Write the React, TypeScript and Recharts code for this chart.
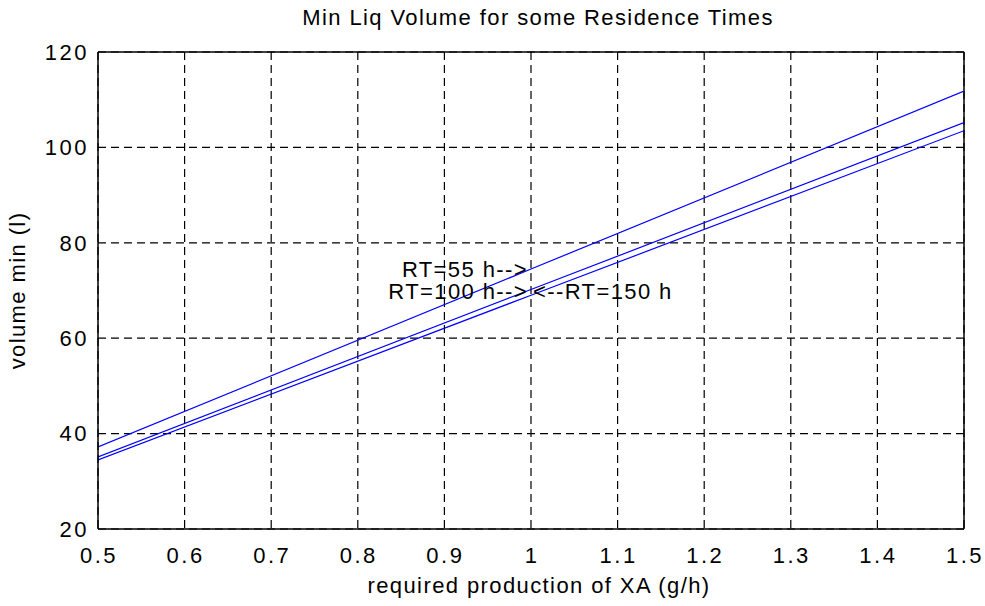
import React from 'react';
import { LineChart, Line, XAxis, YAxis, CartesianGrid, ReferenceLine, ReferenceDot, Label } from 'recharts';

const production = [0.5, 1.0, 1.5];
const rt55 = [37.2, 74.5, 111.8];
const rt100 = [35.1, 70.2, 105.2];
const rt150 = [34.5, 69.0, 103.5];

const xTicks = [0.5, 0.6, 0.7, 0.8, 0.9, 1, 1.1, 1.2, 1.3, 1.4, 1.5];
const yTicks = [20, 40, 60, 80, 100, 120];

const title = 'Min Liq Volume for some Residence Times';
const xLabel = 'required production of XA (g/h)';
const yLabel = 'volume min (l)';

const annotations = [
  { x: 1, y: 74.5, text: 'RT=55 h-->', anchor: 'end' },
  { x: 1, y: 69.8, text: 'RT=100 h-->', anchor: 'end' },
  { x: 1, y: 69.8, text: '<--RT=150 h', anchor: 'start' },
];

const data = production.map((p, i) => ({ p, rt55: rt55[i], rt100: rt100[i], rt150: rt150[i] }));

const FONT = '"Liberation Sans", Arial, sans-serif';
const FS = 22;
const LS = 1.4;

export default function App() {
  return (
    <div style={{ position: 'absolute', left: 0, top: 0, width: 985, height: 606, background: '#fff' }}>
      <div
        style={{
          position: 'absolute',
          left: 0,
          top: 4,
          width: 1076,
          textAlign: 'center',
          fontFamily: FONT,
          fontSize: FS,
          letterSpacing: LS,
          color: '#000',
          lineHeight: '28px',
        }}
      >
        {title}
      </div>
      <LineChart width={985} height={606} data={data} margin={{ top: 52, right: 21, bottom: 0, left: 0 }}>
        <CartesianGrid stroke="#000" strokeDasharray="8 5" strokeWidth={1.2} />
        <XAxis
          dataKey="p"
          type="number"
          domain={[0.5, 1.5]}
          ticks={xTicks}
          tickFormatter={(v: number) => String(v)}
          height={77}
          tickLine={false}
          tickSize={0}
          tickMargin={18}
          axisLine={{ stroke: '#000', strokeWidth: 1.5 }}
          tick={{ fill: '#000', fontFamily: FONT, fontSize: FS, letterSpacing: 2.5, dx: 1 } as any}
          allowDataOverflow
        >
          <Label
            content={(props: any) => {
              const vb = props.viewBox;
              return (
                <text
                  x={vb.x + vb.width / 2 + 8}
                  y={vb.y + 56}
                  textAnchor="middle"
                  dominantBaseline="central"
                  fontFamily={FONT}
                  fontSize={FS}
                  letterSpacing={LS}
                  fill="#000"
                >
                  {xLabel}
                </text>
              );
            }}
          />
        </XAxis>
        <YAxis
          type="number"
          domain={[20, 120]}
          ticks={yTicks}
          width={98}
          tickLine={false}
          tickSize={0}
          tickMargin={9}
          axisLine={{ stroke: '#000', strokeWidth: 1.5 }}
          tick={{ fill: '#000', fontFamily: FONT, fontSize: FS, letterSpacing: 2.5 } as any}
          allowDataOverflow
        >
          <Label
            content={(props: any) => {
              const vb = props.viewBox;
              const cx = vb.x + 17;
              const cy = vb.y + vb.height / 2;
              return (
                <text
                  x={cx}
                  y={cy}
                  transform={`rotate(-90 ${cx} ${cy})`}
                  textAnchor="middle"
                  dominantBaseline="central"
                  fontFamily={FONT}
                  fontSize={FS}
                  letterSpacing={LS}
                  fill="#000"
                >
                  {yLabel}
                </text>
              );
            }}
          />
        </YAxis>
        <ReferenceLine y={120} stroke="#000" strokeWidth={1.5} />
        <ReferenceLine x={1.5} stroke="#000" strokeWidth={1.5} />
        <Line dataKey="rt55" stroke="#0000ff" strokeWidth={1.2} dot={false} isAnimationActive={false} type="linear" />
        <Line dataKey="rt100" stroke="#0000ff" strokeWidth={1.2} dot={false} isAnimationActive={false} type="linear" />
        <Line dataKey="rt150" stroke="#0000ff" strokeWidth={1.2} dot={false} isAnimationActive={false} type="linear" />
        {annotations.map((a, i) => (
          <ReferenceDot
            key={i}
            x={a.x}
            y={a.y}
            r={0}
            stroke="none"
            fill="none"
            label={(props: any) => {
              const vb = props.viewBox;
              return (
                <text
                  x={vb.x + (a.anchor === 'end' ? -3 : 2)}
                  y={vb.y}
                  textAnchor={a.anchor as any}
                  dominantBaseline="central"
                  fontFamily={FONT}
                  fontSize={FS}
                  letterSpacing={LS}
                  fill="#000"
                >
                  {a.text}
                </text>
              );
            }}
          />
        ))}
      </LineChart>
    </div>
  );
}
